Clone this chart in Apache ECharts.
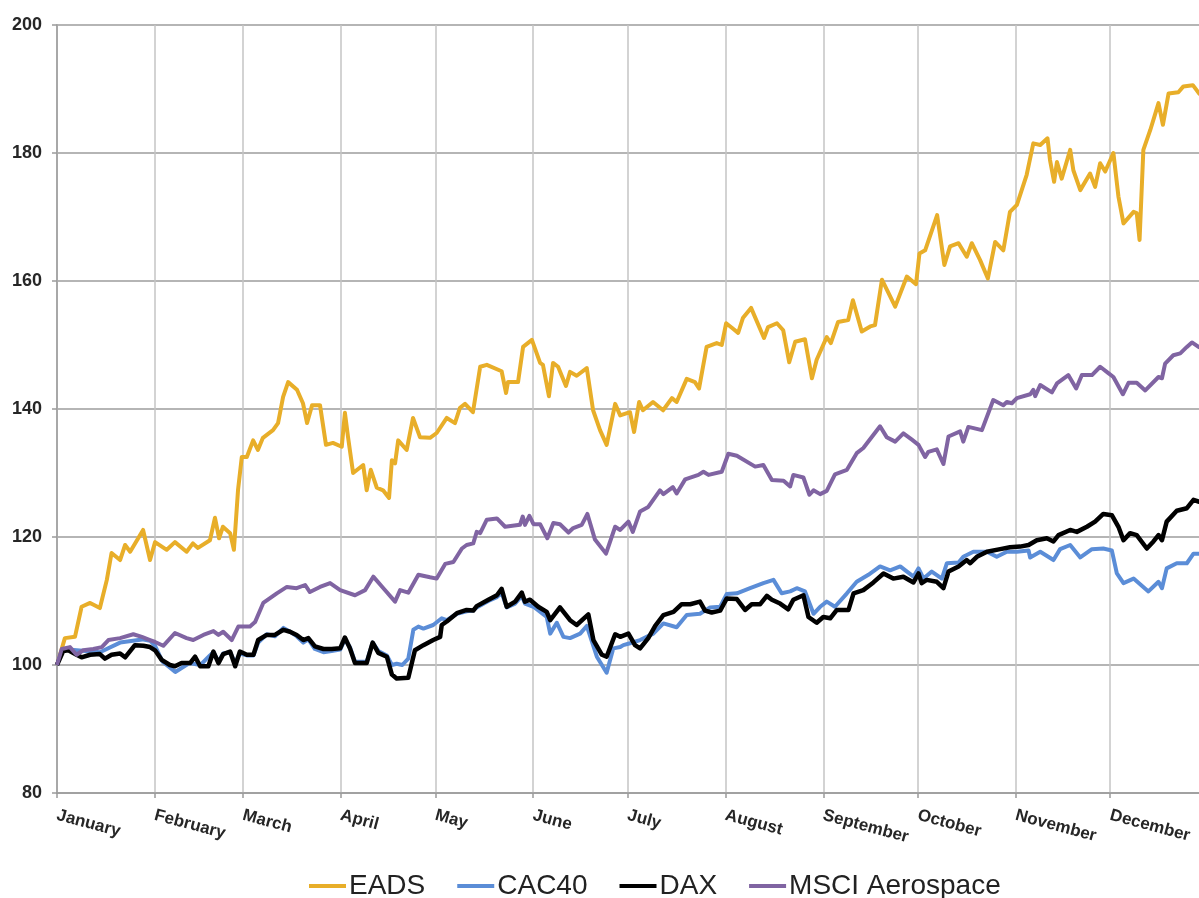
<!DOCTYPE html>
<html>
<head>
<meta charset="utf-8">
<script src="https://cdn.jsdelivr.net/npm/echarts@6/dist/echarts.min.js"></script>
<style>
html,body{margin:0;padding:0;background:#fff;}
#chart{width:1199px;height:898px;}
</style>
</head>
<body>
<div id="chart"></div>
<script>
const monthLabels = ['January','February','March','April','May','June','July','August','September','October','November','December'];
const yTicks = [80, 100, 120, 140, 160, 180, 200];
const seriesNames = ['EADS', 'CAC40', 'DAX', 'MSCI Aerospace'];

// day offsets from 1 January, and index values (base 100)
const eadsDays = [0,2.5,5.7,7.8,10.5,13.6,15.8,17.3,20,21.6,23.2,27.3,29.5,31.1,34.8,37.4,41.1,43.1,44.7,48.5,50.1,51.4,52.6,54.9,56.1,57.4,58.6,60.2,62.2,63.7,65.3,68.5,70.1,71.7,73.3,76.1,78,79.3,80.9,83.4,85.3,87.5,90.3,91.3,92.3,93.9,97.1,98.2,99.5,101.4,103.4,105.3,106.2,107.2,108.2,110.9,112.9,115.1,118.3,120.4,123.6,126.2,127.8,129.4,131.9,134.2,136.3,141,142.4,143,146.2,147.8,150.6,153.2,154.1,156,157.3,158.9,161.4,162.7,164.8,168,170,172.2,174.3,177,178.6,181.7,183,184.6,185.8,189,192.2,195,196.5,199.7,202.3,203.6,206,209.2,210.8,212.2,214,216,217.5,220.1,224.2,225.5,228.3,230.3,232.2,234.1,237.2,239.4,240.9,244.1,245.4,247.7,250.9,252.4,255.2,257.9,259.4,261.6,265.8,269.5,272.4,273.5,275.3,279.1,281.4,283.2,285.9,288.5,290.1,292.7,295.2,297.5,300.1,302.2,304.4,307.5,309.6,311.8,314.1,314.9,316.2,317.1,318.6,321.3,322.3,324.5,327.6,329.2,330.8,332.4,335,336.6,338.2,341.4,342.4,343.3,344.5,346.7,349.3,350.7,352.5,355.6,357.2,360.2,362.2,364];
const eadsValues = [100,104.2,104.4,109.1,109.7,108.9,113.3,117.5,116.4,118.75,117.7,121.1,116.4,119.2,118,119.2,117.7,119,118.3,119.5,123,119.8,121.6,120.6,118,127.3,132.5,132.5,135.1,133.6,135.5,136.7,137.8,141.9,144.2,143,140.9,137.8,140.6,140.6,134.4,134.7,134.1,139.4,135.6,130,131.25,127.3,130.5,127.7,127.3,126.1,132,131.5,135.1,133.6,138.6,135.6,135.5,136.25,138.6,137.8,140.2,140.8,139.5,146.6,146.9,145.9,142.5,144.2,144.2,149.7,150.8,147.2,146.9,142,147.2,146.6,143.6,145.8,145.2,146.4,139.8,136.7,134.4,140.8,139,139.5,136.4,141.1,139.8,141.1,139.8,141.7,141.1,144.7,144.2,143.2,149.7,150.3,150,153.4,152.7,151.9,154.2,155.8,151.1,152.8,153.4,152.3,147.3,150.5,150.9,144.8,147.7,151.25,150.3,153.6,153.9,157,152.1,152.9,153.1,160.2,156,160.7,159.5,164.3,164.8,170.3,162.5,165.4,165.9,163.8,165.9,163.3,160.4,166.1,164.8,170.8,171.9,176.6,181.5,181.25,182.3,178.9,175.5,178.6,176,180.5,177.3,174.2,176.8,174.7,178.4,177.1,180,173.2,169,170.8,170.6,166.4,180.5,183.6,187.8,184.4,189.3,189.5,190.4,190.6,189.3,188.5];

const cacDays = [0,1.7,13.6,20,27,29.5,31.1,33.5,37.5,42,45.5,48.5,49.6,51.2,52.7,54.9,56.5,58,60.2,62.3,63.8,66.5,69.1,71.8,73.9,76,78.1,79.7,81.8,84.5,87.1,89.8,91.3,92.9,94.5,98.2,100.1,101.9,104.6,106.2,107.7,109.5,111.4,113,114.6,116.2,119.3,122,123.6,126.8,129.9,132,133.1,136.8,139.5,141,142.6,145.3,147.4,148.4,151.1,155.3,156.4,158.5,160.6,162.7,165.9,168,171.2,174.3,176.4,178.6,179.6,181.7,184.9,189.1,192.3,196.5,199.7,203.9,207.1,210.3,212.4,215.6,219.8,224,227.2,229.8,232.5,234.6,237.2,239.9,242,244.1,246.7,250.5,253.6,257.3,261,264.2,267.4,271.6,273.2,274.8,277.4,280.6,282.2,285.9,287.4,290.6,294.9,298,301.2,304.4,308.1,308.6,311.8,316,318.1,321.3,324.5,328.2,331.8,334.5,336.1,338.2,341.4,346.1,349.3,350.4,351.9,355.1,358.3,360.4,362.2,364];
const cacValues = [100,102.5,102,103.5,104,103.8,103,100.5,98.9,100.3,100,101.5,102,100.5,101.8,102,100.3,101.8,101.5,101.5,103.5,104.8,104.5,105.8,105.2,104.5,103.5,104,102.5,102,102.2,102.4,104,102.8,100.5,100.5,103.5,102.2,101.5,100,100.2,100,101,105.5,106,105.7,106.25,107.3,107,108,108.4,108.5,109,110,110.6,111.3,109,109.6,110.8,109.6,109.1,107.5,104.9,106.6,104.4,104.2,104.9,106.1,101.3,98.8,102.6,102.8,103.1,103.4,103.9,104.9,106.5,105.9,107.8,108,109,109.1,111.1,111.2,112,112.8,113.3,111.2,111.5,112,111.5,108,109.1,109.9,109.1,111.2,113,114.1,115.4,114.8,115.4,113.8,115.1,113.5,114.6,113.5,115.9,116,116.9,117.7,117.7,116.9,117.7,117.7,117.9,116.8,117.7,116.4,118.1,118.75,116.8,118.1,118.2,117.9,114.3,112.8,113.5,111.5,113,112,115.1,115.9,115.9,117.4,117.4,117.5];

const daxDays = [0,2,3.6,6.2,7.8,10.5,13.6,15.2,17.3,20,21.6,24.7,27.4,29.5,31.1,33.2,35.8,37.4,39.5,42.2,43.8,45.4,48,49.6,51.2,52.7,54.9,56.5,58,60.2,62.3,63.8,66.5,69.1,71.8,73.9,76,78.1,79.7,81.8,84.5,87.1,89.8,91.3,92.9,94.5,98.2,100.1,101.9,104.6,106.2,107.7,111.4,113.5,116.2,119.3,121.5,122,123.6,126.8,129.9,132,133.1,136.8,139.5,141,142.6,145.3,147.4,148.4,150,152.6,155.3,156.4,159.5,162.7,164.8,168.5,170.1,172.8,174.3,177,178.6,181.2,183.3,184.9,187.5,189.7,192.3,195.5,198.1,200.8,203.9,205.5,207.6,210.3,212.4,215.6,218.2,220.3,223,225.1,226.7,229.3,231.9,233.5,236.7,238.3,240.9,243,245.2,247.3,251,252.6,255.7,258.9,262.1,265.2,268.4,271.6,273.2,274.2,275.8,279,281.1,282.7,285.9,288.5,289.6,291.7,294.9,299.1,302.2,305.4,308.1,310.7,313.9,316,317.6,321.3,323.4,326.6,329.2,331.8,334.5,336.6,338.2,340.3,342.4,345.6,347.7,349.3,350.4,351.9,355.1,358.3,360.4,362.2,364];
const daxValues = [100,102.2,102.3,101.6,101.2,101.6,101.7,101,101.6,101.8,101.2,103.1,103,102.8,102.3,100.8,100,99.8,100.3,100.3,101.3,99.8,99.8,102.1,100.3,101.7,102.1,99.8,102.1,101.6,101.6,103.9,104.7,104.7,105.5,105.2,104.7,103.9,104.2,102.9,102.5,102.5,102.6,104.3,102.6,100.3,100.3,103.5,101.9,101.3,98.5,97.9,98,102.3,103.1,103.9,104.4,106.25,106.8,108.1,108.6,108.5,109.2,110.2,110.9,111.9,109.1,109.9,111.3,109.9,110.2,109.1,108.3,107,109,107,106.25,107.9,103.9,101.6,101.3,104.8,104.4,104.9,103.1,102.6,104.2,106.1,107.8,108.3,109.5,109.5,109.9,108.5,108.2,108.5,110.4,110.3,108.6,109.5,109.5,110.8,110.2,109.6,108.7,110.2,110.9,107.5,106.6,107.5,107.3,108.6,108.6,111.2,111.7,112.9,114.3,113.5,113.8,112.9,114.3,112.8,113.3,113,112,114.6,115.4,116.4,115.9,116.9,117.7,118.1,118.4,118.5,118.75,119.5,119.8,119.3,120.3,121.1,120.8,121.6,122.4,123.6,123.4,121.6,119.5,120.6,120.3,118.2,119.3,120.3,119.5,122.4,124.1,124.5,125.8,125.5,125.3];

const msciDays = [0,1.5,4.1,6.2,8.3,11.5,14.2,16.3,20,24.2,26.9,29.5,31.1,33.7,37.4,41.1,43.2,46.4,49.6,51.2,52.7,55.4,57.5,61.2,62.8,65.4,69.7,72.9,76,78.7,80.2,83.4,86.6,89.8,94.5,97.7,100.3,103.5,107.2,108.8,111.4,114.6,118.3,120.4,123.1,125.7,128.4,129.9,132,133.1,134.2,136.3,139.5,142.1,146.8,147.7,148.4,149.8,151.1,153.2,155.5,157.4,159.5,162.2,163.7,166.4,168.2,170.6,174.1,177,178.6,181.2,182.6,184.9,187.5,191.2,192.3,195.3,196.5,199.2,203.4,205,206.6,210.8,212.9,215.6,221.4,224,226.7,230.4,232.5,233.5,236.7,238.6,239.9,242,244.1,246.7,250.5,253.6,255.7,261,263.1,265.8,268.4,271.1,273.2,275.3,276.3,279,281.1,282.7,286.4,287.4,289,293.3,296.9,300.1,301.2,302.8,304.4,308.6,309.6,310.2,311.8,315.5,317.1,320.7,323.2,325,328.2,330.8,333.4,335,338,339.8,342.4,345.1,349.3,350.4,351.4,354,356.2,358.3,359.9,362,364];
const msciValues = [100,102.5,102.8,101.6,102.3,102.5,102.8,103.9,104.2,104.8,104.4,103.9,103.6,103,105,104.2,103.9,104.7,105.3,104.7,105.2,103.9,106,106,106.7,109.7,111.2,112.2,112,112.5,111.4,112.2,112.8,111.7,110.9,111.7,113.8,112,109.9,111.7,111.3,114.1,113.7,113.5,115.8,116.1,118.2,118.75,119,120.8,120.6,122.7,122.9,121.6,121.9,123.2,121.9,123.3,122,122,119.8,122.2,122,120.7,121.4,121.9,123.6,119.6,117.4,121.6,121.1,122.4,120.8,124,124.7,127.3,126.7,127.8,126.8,129,129.7,130.2,129.7,130.2,133,132.7,131,131.25,128.9,128.8,127.9,129.7,129.3,126.6,127.3,126.7,127.2,129.8,130.5,133.1,133.9,137.3,135.6,134.9,136.2,135.2,134.4,132.5,133.3,133.7,131.4,135.7,136.5,134.9,137.2,136.7,141.4,140.6,141.1,140.9,141.7,142.3,143,142,143.75,142.6,144,145.3,143.2,145.3,145.3,146.6,145.6,145,142.3,144.1,144.1,142.9,145,144.8,147.1,148.4,148.7,149.7,150.4,149.7,149.3];

const START = Date.UTC(2013, 0, 1);
const END = Date.UTC(2014, 0, 1);
const DAY = 86400000;
function toPoints(days, values) {
  return days.map((d, i) => [START + d * DAY, values[i]]);
}

const colors = ['#E8AE29', '#5B8DD7', '#000000', '#8064A2'];
const widths = [4, 4, 4.5, 4];
const dataSets = [
  toPoints(eadsDays, eadsValues),
  toPoints(cacDays, cacValues),
  toPoints(daxDays, daxValues),
  toPoints(msciDays, msciValues)
];

const chart = echarts.init(document.getElementById('chart'), null, {renderer: 'canvas'});
chart.setOption({
  animation: false,
  useUTC: true,
  backgroundColor: '#ffffff',
  grid: {left: 57, top: 25, width: 1151, height: 768, containLabel: false, outerBoundsMode: 'none'},
  legend: {
    left: 304, top: 867,
    icon: 'rect', itemWidth: 37, itemHeight: 4, itemGap: 32,
    textStyle: {fontFamily: 'Liberation Sans, Arial, sans-serif', fontSize: 28, color: '#222', padding: [0,0,0,-2]},
    data: seriesNames
  },
  xAxis: {
    type: 'time', min: START, max: END, splitNumber: 12,
    axisLine: {show: true, lineStyle: {color: '#9a9a9a', width: 1.5}},
    axisTick: {show: true, length: 5, lineStyle: {color: '#9a9a9a', width: 1.5}},
    splitLine: {show: true, lineStyle: {color: '#c4c4c4', width: 1.5}},
    minorTick: {show: false},
    axisLabel: {
      rotate: -15, margin: 22, showMaxLabel: false,
      fontFamily: 'Liberation Sans, Arial, sans-serif', fontWeight: 'bold', fontSize: 17, color: '#262626',
      formatter: function (v) { return monthLabels[new Date(v).getUTCMonth()]; }
    }
  },
  yAxis: {
    type: 'value', min: yTicks[0], max: yTicks[yTicks.length - 1], interval: 20,
    axisLine: {show: true, lineStyle: {color: '#a8a8a8', width: 2}},
    axisTick: {show: true, length: 5, lineStyle: {color: '#9a9a9a', width: 1.5}},
    splitLine: {show: true, lineStyle: {color: '#9c9c9c', width: 1.5}},
    axisLabel: {margin: 15, fontFamily: 'Liberation Sans, Arial, sans-serif', fontWeight: 'bold', fontSize: 18, color: '#262626'}
  },
  series: seriesNames.map((name, i) => ({
    name: name, type: 'line', data: dataSets[i], showSymbol: false, symbol: 'none',
    color: colors[i],
    lineStyle: {color: colors[i], width: widths[i], join: 'round'},
    z: 2 + i
  }))
});
</script>
</body>
</html>
